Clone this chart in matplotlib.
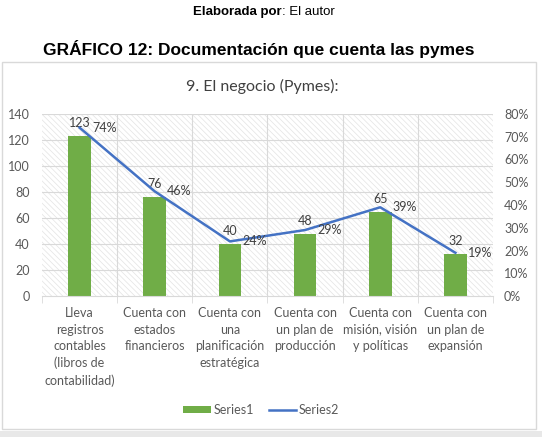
import matplotlib
matplotlib.use("Agg")
import matplotlib.pyplot as plt
from matplotlib.patches import Rectangle
import numpy as np

categories = ["Lleva\nregistros\ncontables\n(libros de\ncontabilidad)",
              "Cuenta con\nestados\nfinancieros",
              "Cuenta con\nuna\nplanificación\nestratégica",
              "Cuenta con\nun plan de\nproducción",
              "Cuenta con\nmisión, visión\ny políticas",
              "Cuenta con\nun plan de\nexpansión"]
series1 = [123, 76, 40, 48, 65, 32]
series2 = [0.74, 0.46, 0.24, 0.29, 0.39, 0.19]
left_ticks = [0, 20, 40, 60, 80, 100, 120, 140]
right_ticks = [0, 0.1, 0.2, 0.3, 0.4, 0.5, 0.6, 0.7, 0.8]

plt.rcParams['font.family'] = ['Lato', 'DejaVu Sans']
plt.rcParams['hatch.linewidth'] = 0.5
plt.rcParams['hatch.color'] = '#E3E3E3'

W, H = 542, 437
fig = plt.figure(figsize=(W / 100, H / 100), dpi=100)
fig.patch.set_facecolor('white')

# header texts
fig.text(282 / W, 1 - 12 / H, "Elaborada por", ha='right', va='center',
         fontsize=9.5, fontweight='bold', family='Liberation Sans')
fig.text(282 / W, 1 - 12 / H, ": El autor", ha='left', va='center',
         fontsize=9.5, family='Liberation Sans')
fig.text(259 / W, 1 - 49 / H, "GRÁFICO 12: Documentación que cuenta las pymes",
         ha='center', va='center', fontsize=12.5, fontweight='bold',
         family='Liberation Sans')

# chart frame
fig.patches.append(Rectangle((2 / W, 1 - 429 / H), 534 / W, 367 / H,
                             transform=fig.transFigure, facecolor='white',
                             edgecolor='#D9D9D9', linewidth=1, zorder=-2))
fig.patches.append(Rectangle((0, 0), 1, 6 / H, transform=fig.transFigure,
                             facecolor='#E8E8E8', edgecolor='none', zorder=-2))

fig.text(262 / W, 1 - 86 / H, "9. El negocio (Pymes):", ha='center', va='center',
         fontsize=11.5, color='#404040')

ax = fig.add_axes([42 / W, 1 - 296 / H, 451 / W, 182 / H])
ax.set_facecolor('none')
ax.set_zorder(2)
x = np.arange(len(categories))

# hatched background
ax.add_patch(Rectangle((0, 0), 1, 1, transform=ax.transAxes, facecolor='white',
                       hatch='\\\\\\\\\\\\', linewidth=0, zorder=0))

ax.set_xlim(-0.5, len(categories) - 0.5)
ax.set_ylim(0, 140)
ax.set_yticks(left_ticks)
for yv in left_ticks[1:]:
    ax.axhline(yv, color='#D9D9D9', linewidth=0.8, zorder=1)
for xv in np.arange(0.5, len(categories) - 0.5, 1):
    ax.axvline(xv, color='#D9D9D9', linewidth=0.8, zorder=1)

bars = ax.bar(x, series1, width=0.3, color='#70AD47', zorder=2, label='Series1')
for xi, v in zip(x, series1):
    ax.annotate(str(v), (xi, v), xytext=(0, 5), textcoords='offset points',
                ha='center', va='bottom', fontsize=9, color='#404040', zorder=5)

ax.set_xticks(x)
ax.set_xticklabels(categories, fontsize=9, color='#595959', linespacing=1.45)
ax.tick_params(axis='x', length=0, pad=8)
ax.tick_params(axis='y', length=0, labelsize=9, labelcolor='#595959', pad=9)
for s in ['top', 'right', 'left']:
    ax.spines[s].set_visible(False)
ax.spines['bottom'].set_color('#D9D9D9')
ax.set_xticks(np.arange(-0.5, len(categories), 1), minor=True)
ax.tick_params(axis='x', which='minor', length=5, color='#D9D9D9')

ax2 = ax.twinx()
ax2.set_zorder(3)
ax2.patch.set_visible(False)
ax2.set_ylim(0, 0.8)
ax2.set_yticks(right_ticks)
ax2.set_yticklabels([f"{int(round(t * 100))}%" for t in right_ticks])
ax2.tick_params(axis='y', length=0, labelsize=9, labelcolor='#595959', pad=8)
for s in ax2.spines.values():
    s.set_visible(False)
line, = ax2.plot(x, series2, color='#4472C4', linewidth=1.8, zorder=4, label='Series2')
for xi, v in zip(x, series2):
    ax2.annotate(f"{int(round(v * 100))}%", (xi, v), xytext=(9, 0),
                 textcoords='offset points', ha='left', va='center',
                 fontsize=9, color='#404040', zorder=5)

fig.legend([bars, line], ['Series1', 'Series2'], loc='center',
           bbox_to_anchor=(261 / W, 1 - 410 / H), ncol=2, frameon=False,
           fontsize=9, handlelength=2.2, handleheight=0.5, columnspacing=1.2,
           labelcolor='#595959', handletextpad=0.2)

fig.savefig('out.png', dpi=100, facecolor='white')
